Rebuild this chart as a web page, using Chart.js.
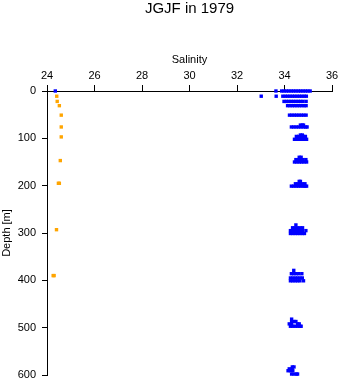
<!DOCTYPE html>
<html>
<head>
<meta charset="utf-8">
<script src="https://cdn.jsdelivr.net/npm/chart.js@4/dist/chart.umd.min.js"></script>
<style>
  html, body { margin: 0; padding: 0; background: #fff; }
  #wrap { width: 341px; height: 384px; }
</style>
</head>
<body>
<div id="wrap"><canvas id="profileChart" width="341" height="384"></canvas></div>
<script>
// orange profile (single samples)
const orangeDepth = [11, 22, 31, 51, 76, 97, 147, 195, 195, 293, 390, 390];
const orangeSal = [24.41, 24.43, 24.52, 24.6, 24.6, 24.6, 24.56, 24.48, 24.52, 24.4, 24.26, 24.3];

// blue profile, one entry per depth row
const blueDepth = [0, 11, 22, 31, 51, 76, 72, 102, 96, 93, 150, 145, 140,
    201, 196, 191, 301, 295, 289, 283, 401, 395, 386, 379, 497, 492, 487, 482,
    598, 591, 587, 583];
const blueSal = [
    [24.35, 33.64, 33.88, 33.98, 34.08, 34.18, 34.28, 34.38, 34.48, 34.58, 34.68, 34.78, 34.88, 34.98, 35.08],
    [33.02, 33.65, 33.93, 34.03, 34.13, 34.23, 34.33, 34.43, 34.53, 34.63, 34.73, 34.83, 34.92],
    [33.98, 34.08, 34.18, 34.28, 34.38, 34.48, 34.58, 34.68, 34.78, 34.91],
    [34.13, 34.23, 34.33, 34.43, 34.53, 34.63, 34.73, 34.83, 34.91],
    [34.21, 34.31, 34.41, 34.51, 34.61, 34.71, 34.81, 34.91],
    [34.29, 34.39, 34.49, 34.59, 34.69, 34.79, 34.89, 34.95],
    [34.67, 34.75, 34.8],
    [34.42, 34.52, 34.62, 34.72, 34.82, 34.93],
    [34.5, 34.6, 34.7, 34.8, 34.88],
    [34.67, 34.75],
    [34.42, 34.52, 34.62, 34.72, 34.82, 34.93],
    [34.48, 34.58, 34.68, 34.78, 34.9],
    [34.62, 34.7],
    [34.29, 34.39, 34.49, 34.59, 34.69, 34.79, 34.86, 34.93],
    [34.46, 34.56, 34.66, 34.76, 34.86],
    [34.62, 34.67],
    [34.25, 34.35, 34.45, 34.55, 34.65, 34.75, 34.84],
    [34.25, 34.35, 34.45, 34.55, 34.65, 34.75, 34.9],
    [34.34, 34.44, 34.54, 34.66, 34.76],
    [34.48],
    [34.25, 34.35, 34.45, 34.55, 34.65, 34.8],
    [34.25, 34.35, 34.45, 34.55, 34.65, 34.75],
    [34.29, 34.39, 34.49, 34.6, 34.73],
    [34.39],
    [34.25, 34.35, 34.45, 34.55, 34.65, 34.7],
    [34.2, 34.3, 34.55, 34.62],
    [34.3, 34.4, 34.48],
    [34.3],
    [34.3, 34.4, 34.5, 34.55],
    [34.15, 34.25, 34.35],
    [34.2, 34.32],
    [34.33, 34.4]
];

const salTicks = [24, 26, 28, 30, 32, 34, 36];
const depthTicks = [0, 100, 200, 300, 400, 500, 600];

const family = '"Liberation Sans", Arial, Helvetica, sans-serif';
const tickFont = { family, size: 11 };

const orangePoints = orangeDepth.map((d, i) => ({ x: orangeSal[i], y: d }));
const bluePoints = blueDepth.flatMap((d, i) => blueSal[i].map(s => ({ x: s, y: d })));

function pointSet(label, data, color) {
    return {
        label,
        data,
        pointStyle: 'rect',
        pointRadius: 2.4,
        pointBorderWidth: 0,
        backgroundColor: color,
        borderColor: color,
        showLine: false,
        clip: false
    };
}

const ctx = document.getElementById('profileChart').getContext('2d');
new Chart(ctx, {
    type: 'scatter',
    data: {
        datasets: [
            pointSet('orange', orangePoints, '#FFA500'),
            pointSet('blue', bluePoints, '#0000FF')
        ]
    },
    options: {
        responsive: false,
        animation: false,
        devicePixelRatio: 1,
        layout: { padding: { left: 0, right: 9, top: 0, bottom: 9 } },
        plugins: {
            legend: { display: false },
            tooltip: { enabled: false },
            title: {
                display: true,
                text: 'JGJF in 1979',
                fullSize: false,
                color: '#000',
                font: { family, size: 15, weight: 'normal' },
                padding: { top: 0, bottom: 1 }
            }
        },
        scales: {
            x: {
                type: 'linear',
                position: 'top',
                min: 24,
                max: 36,
                afterBuildTicks: s => { s.ticks = salTicks.map(v => ({ value: v })); },
                ticks: { color: '#000', font: tickFont, padding: 2, maxRotation: 0 },
                grid: { drawOnChartArea: false, drawTicks: true, tickLength: 6, color: '#000' },
                border: { display: true, color: '#000', width: 1 },
                title: { display: true, text: 'Salinity', color: '#000', font: tickFont, padding: { top: 34, bottom: 0 } },
                afterFit: s => { s.height = 72; s.paddingLeft = 0; s.paddingRight = 0; }
            },
            y: {
                type: 'linear',
                reverse: true,
                min: 0,
                max: 600,
                afterBuildTicks: s => { s.ticks = depthTicks.map(v => ({ value: v })); },
                ticks: { color: '#000', font: tickFont, padding: 6 },
                grid: { drawOnChartArea: false, drawTicks: true, tickLength: 5, color: '#000' },
                border: { display: true, color: '#000', width: 1 },
                title: { display: true, text: 'Depth [m]', color: '#000', font: tickFont, padding: { top: 0, bottom: 0 } },
                afterFit: s => { s.width = 47; s.paddingTop = 0; s.paddingBottom = 0; }
            }
        }
    }
});
</script>
</body>
</html>
